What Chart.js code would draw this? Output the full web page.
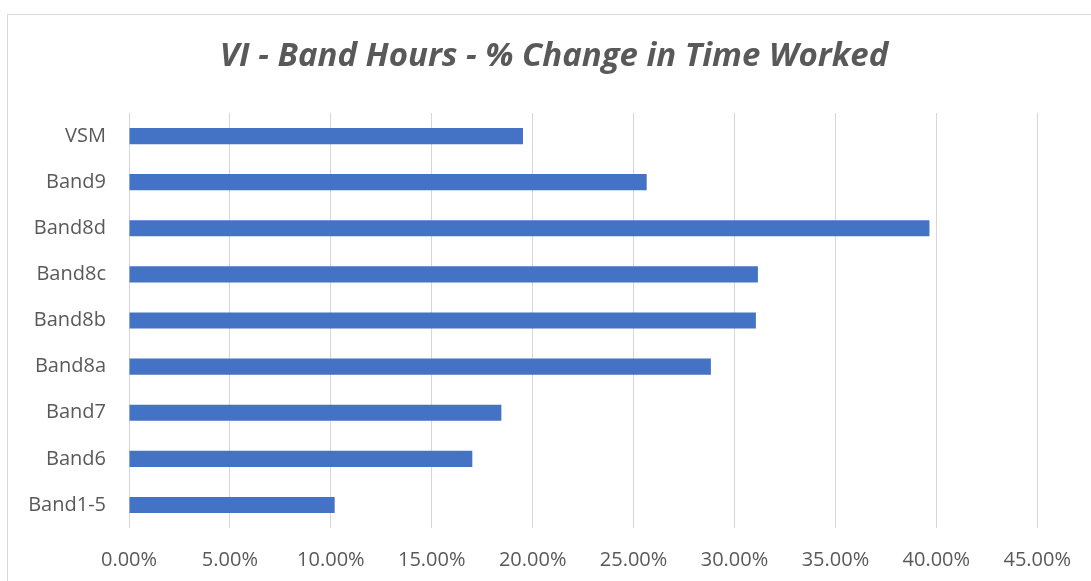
<!DOCTYPE html>
<html>
<head>
<meta charset="utf-8">
<script src="https://cdn.jsdelivr.net/npm/chart.js@4/dist/chart.umd.min.js"></script>
<style>
  html, body { margin: 0; padding: 0; background: #fff; overflow: hidden; }
  #frame {
    position: absolute; left: 7px; top: 14px;
    width: 1200px; height: 700px;
    border: 1px solid #d9d9d9;
  }
  #bandChart { position: absolute; left: 0; top: 0; }
</style>
</head>
<body>
<div id="frame"></div>
<canvas id="bandChart" width="1091" height="581"></canvas>
<script>
// bands listed top to bottom as they appear on the axis
const bands = ['VSM', 'Band9', 'Band8d', 'Band8c', 'Band8b', 'Band8a', 'Band7', 'Band6', 'Band1-5'];
// % change in time worked per band
const pctChange = [19.52, 25.65, 39.66, 31.16, 31.06, 28.83, 18.45, 17.01, 10.19];
const xTicks = [0, 5, 10, 15, 20, 25, 30, 35, 40, 45];
const chartTitle = 'VI - Band Hours - % Change in Time Worked';

const labelGrey = '#595959';
const gridGrey = '#d6d6d6';

// title is centred on the whole frame, not just the plot, so draw it here
const frameTitle = {
    id: 'frameTitle',
    afterDraw(chart) {
        const c = chart.ctx;
        c.save();
        c.fillStyle = labelGrey;
        c.font = 'italic bold 33px "Open Sans"';
        c.textAlign = 'center';
        c.textBaseline = 'middle';
        c.fillText(chartTitle, 554, 57);
        c.restore();
    }
};

window.onload = function() {
    const ctx = document.getElementById('bandChart').getContext('2d');

    new Chart(ctx, {
        type: 'bar',
        data: {
            labels: bands,
            datasets: [{
                label: '% Change',
                data: pctChange,
                backgroundColor: '#4472c4',
                borderWidth: 0,
                barPercentage: 0.35,
                categoryPercentage: 1
            }]
        },
        options: {
            indexAxis: 'y',
            responsive: false,
            animation: false,
            layout: {
                padding: { left: 0, right: 52, top: 113, bottom: 0 }
            },
            plugins: {
                legend: { display: false },
                tooltip: { enabled: false },
                title: { display: false }
            },
            scales: {
                x: {
                    min: 0,
                    max: 45,
                    afterBuildTicks: (scale) => {
                        scale.ticks = xTicks.map(v => ({ value: v }));
                    },
                    afterFit: (scale) => { scale.height = 53; },
                    grid: {
                        color: gridGrey,
                        lineWidth: 1,
                        drawTicks: false
                    },
                    border: { display: false },
                    ticks: {
                        color: labelGrey,
                        padding: 20,
                        font: { family: '"Open Sans"', size: 20 },
                        callback: (v) => v.toFixed(2) + '%'
                    }
                },
                y: {
                    afterFit: (scale) => { scale.width = 129; },
                    grid: { display: false },
                    border: { display: false },
                    ticks: {
                        color: labelGrey,
                        padding: 15,
                        font: { family: '"Open Sans"', size: 20 }
                    }
                }
            }
        },
        plugins: [frameTitle]
    });
};
</script>
</body>
</html>
